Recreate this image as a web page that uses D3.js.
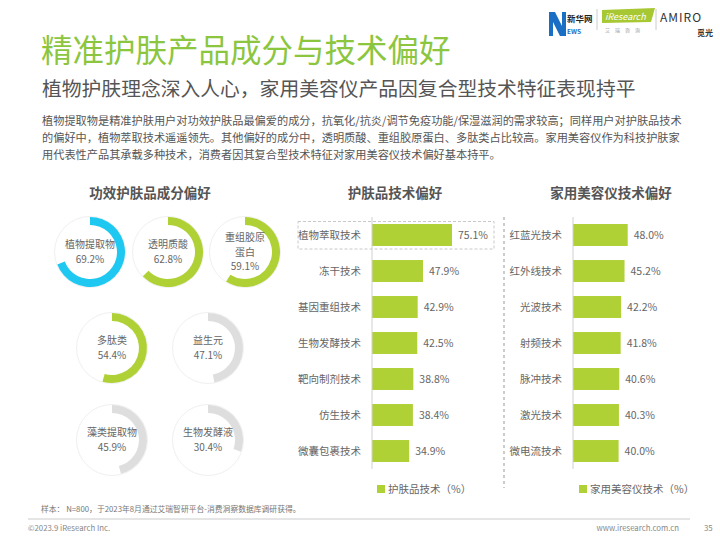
<!DOCTYPE html>
<html><head><meta charset="utf-8">
<script src="https://cdn.jsdelivr.net/npm/d3@7"></script>
<style>
html,body{margin:0;padding:0;background:#fff;}
svg text{font-family:"Noto Sans CJK SC","Noto Sans",sans-serif;}
</style></head>
<body><svg id="c" width="720" height="540"></svg>
<script>
// ---- data ----
const ingredientNames = ["植物提取物","透明质酸","重组胶原蛋白","多肽类","益生元","藻类提取物","生物发酵液"];
const ingredientValues = [69.2, 62.8, 59.1, 54.4, 47.1, 45.9, 30.4];
const skincareTech = ["植物萃取技术","冻干技术","基因重组技术","生物发酵技术","靶向制剂技术","仿生技术","微囊包裹技术"];
const skincareValues = [75.1, 47.9, 42.9, 42.5, 38.8, 38.4, 34.9];
const deviceTech = ["红蓝光技术","红外线技术","光波技术","射频技术","脉冲技术","激光技术","微电流技术"];
const deviceValues = [48.0, 45.2, 42.2, 41.8, 40.6, 40.3, 40.0];

const svg = d3.select("#c");
const GREEN = "#afd136", BLUE = "#1ec8f0", GRAY = "#dedede", TXT = "#666";

// ---- header ----
svg.append("text").attr("x",41).attr("y",62).attr("font-size",31.5).attr("fill","#8cc63f").text("精准护肤产品成分与技术偏好");
svg.append("text").attr("x",42).attr("y",96).attr("font-size",19.8).attr("fill","#555").text("植物护肤理念深入人心，家用美容仪产品因复合型技术特征表现持平");
const desc = ["植物提取物是精准护肤用户对功效护肤品最偏爱的成分，抗氧化/抗炎/调节免疫功能/保湿滋润的需求较高；同样用户对护肤品技术",
"的偏好中，植物萃取技术遥遥领先。其他偏好的成分中，透明质酸、重组胶原蛋白、多肽类占比较高。家用美容仪作为科技护肤家",
"用代表性产品其承载多种技术，消费者因其复合型技术特征对家用美容仪技术偏好基本持平。"];
svg.selectAll("text.desc").data(desc).join("text").attr("class","desc")
  .attr("x",42).attr("y",(d,i)=>125+i*17).attr("font-size",11.2).attr("fill","#555").text(d=>d);

// logos (drawn shapes)
const lg = svg.append("g");
lg.append("path").attr("d","M549,36 L549,12 L555,12 L562,26 L562,12 L566,12 L566,36 L560,36 L553,22 L553,36 Z").attr("fill","#1a6fc4");
lg.append("text").attr("x",567).attr("y",22).attr("font-size",8.5).attr("font-weight","bold").attr("fill","#222").text("新华网");
lg.append("text").attr("x",567).attr("y",34).attr("font-size",6.5).attr("font-weight","bold").attr("fill","#1a6fc4").text("EWS");
lg.append("line").attr("x1",597).attr("x2",597).attr("y1",9).attr("y2",30).attr("stroke","#ccc");
lg.append("path").attr("d","M602,10 L655,8 L651,22 L602,23 Z").attr("fill","#a7c832");
lg.append("text").attr("x",605).attr("y",20).attr("font-size",9).attr("font-style","italic").attr("fill","#fff").text("iResearch");
lg.append("text").attr("x",605).attr("y",32).attr("font-size",5).attr("fill","#999").text("艾　瑞　咨　询");
lg.append("line").attr("x1",656).attr("x2",656).attr("y1",9).attr("y2",30).attr("stroke","#ccc");
lg.append("text").attr("x",660).attr("y",22).attr("font-size",12).attr("letter-spacing",1).attr("fill","#333").text("AMIRO");
lg.append("text").attr("x",697).attr("y",36).attr("font-size",8).attr("font-weight","bold").attr("fill","#333").text("觅光");

// ---- section titles ----
const titles = [["功效护肤品成分偏好",150],["护肤品技术偏好",395],["家用美容仪技术偏好",611]];
svg.selectAll("text.st").data(titles).join("text").attr("class","st")
  .attr("x",d=>d[1]).attr("y",198).attr("text-anchor","middle").attr("font-size",13.5)
  .attr("font-weight","bold").attr("fill","#555").text(d=>d[0]);

// ---- donuts ----
const centers = [[90,252],[168,252],[245,252],[112,348],[208,348],[112,440],[208,440]];
const R = 35, W = 8;
const arc = d3.arc().innerRadius(R-W).outerRadius(R).startAngle(0);
const donutColor = i => i===0 ? BLUE : (i<4 ? GREEN : GRAY);
ingredientNames.forEach((name,i)=>{
  const g = svg.append("g").attr("transform",`translate(${centers[i][0]},${centers[i][1]})`);
  g.append("circle").attr("r",R+0.5).attr("fill","#fff").attr("stroke","#f0f0f0").attr("stroke-width",1);
  g.append("path").attr("d",arc({endAngle:2*Math.PI*ingredientValues[i]/100})).attr("fill",donutColor(i));
  const lines = name==="重组胶原蛋白" ? ["重组胶原","蛋白"] : [name];
  lines.push(d3.format(".1f")(ingredientValues[i])+"%");
  const n = lines.length, lh = 14.6;
  g.selectAll("text").data(lines).join("text")
    .attr("x",0).attr("y",(d,j)=>(j-(n-1)/2)*lh+3.5)
    .attr("text-anchor","middle").attr("font-size",10).attr("fill",TXT).text(d=>d);
});

// ---- bar charts ----
function barChart(cats, vals, x0, pxPer100, legend, legendX) {
  const y = d3.scaleBand().domain(cats).range([217,469]).paddingInner(0.39).paddingOuter(0.195);
  const x = d3.scaleLinear().domain([0,100]).range([x0, x0+pxPer100]);
  const g = svg.append("g");
  g.selectAll("rect.bar").data(cats).join("rect").attr("class","bar")
    .attr("x",x(0)).attr("y",d=>y(d)).attr("height",y.bandwidth())
    .attr("width",(d,i)=>x(vals[i])-x(0)).attr("fill",GREEN);
  g.append("line").attr("x1",x0).attr("x2",x0).attr("y1",217).attr("y2",469).attr("stroke","#d0d0d0").attr("stroke-width",1);
  g.selectAll("text.cat").data(cats).join("text").attr("class","cat")
    .attr("x",x0-11).attr("y",d=>y(d)+y.bandwidth()/2+3.7).attr("text-anchor","end")
    .attr("font-size",10.5).attr("fill",TXT).text(d=>d);
  g.selectAll("text.val").data(cats).join("text").attr("class","val")
    .attr("x",(d,i)=>x(vals[i])+6).attr("y",d=>y(d)+y.bandwidth()/2+3.7)
    .attr("font-size",10.5).attr("fill",TXT).text((d,i)=>d3.format(".1f")(vals[i])+"%");
  g.append("rect").attr("x",legendX).attr("y",485).attr("width",8).attr("height",8).attr("fill",GREEN);
  g.append("text").attr("x",legendX+11).attr("y",493).attr("font-size",10.5).attr("fill",TXT).text(legend);
  return y;
}
barChart(skincareTech, skincareValues, 372, 106.5, "护肤品技术（%）", 377);
barChart(deviceTech, deviceValues, 573, 114, "家用美容仪技术（%）", 579);

// highlight box & separator
svg.append("rect").attr("x",298).attr("y",221.5).attr("width",196).attr("height",27.5)
  .attr("fill","none").attr("stroke","#c8c8c8").attr("stroke-dasharray","3,2");
svg.append("line").attr("x1",504).attr("x2",504).attr("y1",217).attr("y2",488)
  .attr("stroke","#999").attr("stroke-dasharray","3,3");

// ---- footer ----
svg.append("text").attr("x",41).attr("y",512).attr("font-size",7.8).attr("fill","#777").text("样本： N=800，于2023年8月通过艾瑞智研平台-消费洞察数据库调研获得。");
svg.append("line").attr("x1",28).attr("x2",690).attr("y1",519).attr("y2",519).attr("stroke","#ddd").attr("stroke-width",1.5);
svg.append("text").attr("x",28).attr("y",531).attr("font-size",7.8).attr("fill","#888").text("©2023.9 iResearch Inc.");
svg.append("text").attr("x",679).attr("y",531).attr("text-anchor","end").attr("font-size",7.8).attr("fill","#888").text("www.iresearch.com.cn");
svg.append("text").attr("x",704).attr("y",531).attr("font-size",7.8).attr("fill","#888").text("35");
</script></body></html>
